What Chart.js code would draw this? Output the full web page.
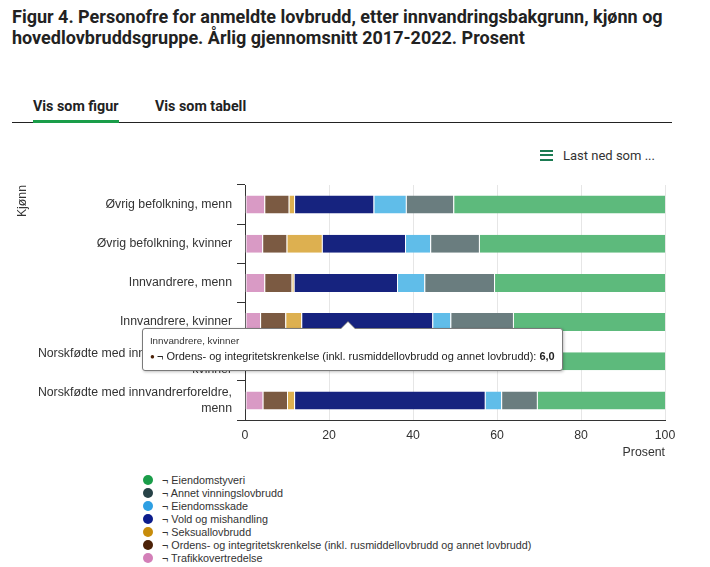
<!DOCTYPE html>
<html>
<head>
<meta charset="utf-8">
<script src="https://cdn.jsdelivr.net/npm/chart.js@4"></script>
<style>
  html, body { margin: 0; padding: 0; background: #fff; }
  body { width: 710px; height: 567px; position: relative; overflow: hidden; font-family: "Liberation Sans", Arial, sans-serif; color: #222; }
  .title { position: absolute; left: 12px; top: 6px; font-family: Roboto, sans-serif; font-weight: 700; font-size: 18px; line-height: 21px; color: #222; white-space: nowrap; }
  .tabs { position: absolute; left: 12px; top: 98px; width: 660px; height: 24px; border-bottom: 1px solid #222; }
  .tab { position: absolute; top: 0; font-family: Roboto, sans-serif; font-weight: 700; font-size: 14.3px; color: #222; white-space: nowrap; }
  .tab.active { left: 21px; }
  .tab.other { left: 143px; }
  .underline { position: absolute; left: 21px; bottom: -1px; width: 86px; height: 3px; background: #1a9d49; }
  .download { position: absolute; left: 540px; top: 148px; font-family: Roboto, sans-serif; font-size: 13px; color: #333; white-space: nowrap; }
  .download .icon { display: inline-block; width: 13px; height: 11px; vertical-align: -1px; margin-right: 10px;
    background: linear-gradient(#1b7b52 0 2px, transparent 2px 4.5px, #1b7b52 4.5px 6.5px, transparent 6.5px 9px, #1b7b52 9px 11px); }
  .wrap { position: absolute; left: 0; top: 170px; width: 700px; height: 290px; }
  #legend { position: absolute; left: 143px; top: 474px; font-size: 10.8px; color: #333; }
  #legend div { height: 12.95px; line-height: 12.95px; white-space: nowrap; }
  #legend span.dot { display: inline-block; width: 10px; height: 10px; border-radius: 50%; margin-right: 9px; vertical-align: -1px; }
  #tip { position: absolute; background: #fff; border: 1px solid #7a7a7a; border-radius: 3px; padding: 5px 7px 5px 7px;
    box-shadow: 1px 1px 3px rgba(0,0,0,0.25); font-family: "Liberation Sans", Arial, sans-serif; white-space: nowrap; opacity: 0; }
  #tip .t { font-size: 9.8px; color: #333; line-height: 14px; }
  #tip .b { font-size: 11px; color: #222; line-height: 16px; }
  #tip .b .d { font-size: 8px; vertical-align: 1px; }
  #tip .caret, #tip .caret2 { position: absolute; width: 0; height: 0; }
  #tip .caret2 { top: -8px; border-left: 8px solid transparent; border-right: 8px solid transparent; border-bottom: 8px solid #7a7a7a; }
  #tip .caret { top: -7px; border-left: 7px solid transparent; border-right: 7px solid transparent; border-bottom: 7px solid #fff; }
</style>
</head>
<body>
<div class="title">Figur 4. Personofre for anmeldte lovbrudd, etter innvandringsbakgrunn, kjønn og<br>hovedlovbruddsgruppe. Årlig gjennomsnitt 2017-2022. Prosent</div>
<div class="tabs">
  <div class="tab active">Vis som figur</div>
  <div class="tab other">Vis som tabell</div>
  <div class="underline"></div>
</div>
<div class="download"><span class="icon"></span>Last ned som ...</div>
<div class="wrap"><canvas id="chart"></canvas></div>
<div id="legend"></div>
<div id="tip"><div class="caret2"></div><div class="caret"></div><div class="t"></div><div class="b"></div></div>
<script>
// kategorier (y-akse)
const categories = [
  'Øvrig befolkning, menn',
  'Øvrig befolkning, kvinner',
  'Innvandrere, menn',
  'Innvandrere, kvinner',
  ['Norskfødte med innvandrerforeldre,', 'kvinner'],
  ['Norskfødte med innvandrerforeldre,', 'menn']
];

// serier i stablet rekkefølge (fra venstre)
const seriesNames = [
  '¬ Trafikkovertredelse',
  '¬ Ordens- og integritetskrenkelse (inkl. rusmiddellovbrudd og annet lovbrudd)',
  '¬ Seksuallovbrudd',
  '¬ Vold og mishandling',
  '¬ Eiendomsskade',
  '¬ Annet vinningslovbrudd',
  '¬ Eiendomstyveri'
];

const trafikk       = [4.6, 4.1, 4.6, 3.6, 3.6, 4.2];
const ordens        = [5.8, 5.8, 6.5, 6.0, 4.7, 5.8];
const seksual       = [1.3, 8.4, 0.5, 3.8, 8.9, 1.7];
const vold          = [18.9, 19.8, 24.6, 31.2, 44.6, 45.4];
const eiendomsskade = [7.7, 6.0, 6.5, 4.3, 2.6, 3.9];
const annetVinning  = [11.3, 11.6, 16.6, 14.9, 8.0, 8.5];
const eiendomstyveri = [50.4, 44.3, 40.7, 36.2, 27.6, 30.5];

const xTicks = [0, 20, 40, 60, 80, 100];

const barColors = ['#d99ac5', '#7b5a42', '#ddb050', '#16237f', '#60bde9', '#6a7d7f', '#5dba7c'];
const legendColors = ['#d37fb8', '#4b2107', '#c78c0b', '#0c1c8c', '#2d9fe3', '#274247', '#1a9d49'];

const seriesValues = [trafikk, ordens, seksual, vold, eiendomsskade, annetVinning, eiendomstyveri];

// tooltip som i originalen: Innvandrere, kvinner / Ordens...
const activeSeries = 1;
const activeCategory = 3;
const pointerAt = 24.5;

Chart.defaults.font.family = '"Liberation Sans", Arial, sans-serif';
Chart.defaults.color = '#333';

function externalTooltip(context) {
  const chart = context.chart;
  const tooltip = context.tooltip;
  const tip = document.getElementById('tip');
  if (tooltip.opacity === 0 || !tooltip.dataPoints || !tooltip.dataPoints.length) {
    tip.style.opacity = 0;
    return;
  }
  const dp = tooltip.dataPoints[0];
  const label = Array.isArray(dp.label) ? dp.label.join(' ') : dp.label;
  tip.querySelector('.t').textContent = label;
  const b = tip.querySelector('.b');
  b.innerHTML = '';
  const dot = document.createElement('span');
  dot.className = 'd';
  dot.style.color = legendColors[dp.datasetIndex];
  dot.textContent = '● ';
  b.appendChild(dot);
  b.appendChild(document.createTextNode(dp.dataset.label + ': '));
  const v = document.createElement('b');
  v.textContent = dp.raw.toFixed(1).replace('.', ',');
  b.appendChild(v);

  const wrap = chart.canvas.parentNode;
  const tipX = wrap.offsetLeft + chart.scales.x.getPixelForValue(pointerAt);
  const tipY = wrap.offsetTop + tooltip.caretY;
  const w = tip.offsetWidth;
  const left = tipX - Math.round(w * 0.49);
  tip.style.left = left + 'px';
  tip.style.top = (tipY + 6) + 'px';
  tip.querySelector('.caret').style.left = (tipX - left - 8) + 'px';
  tip.querySelector('.caret2').style.left = (tipX - left - 9) + 'px';
  tip.style.opacity = 1;
}

const datasets = seriesNames.map((name, i) => ({
  label: name,
  data: seriesValues[i],
  backgroundColor: barColors[i],
  hoverBackgroundColor: barColors[i],
  borderColor: '#fff',
  hoverBorderColor: '#fff',
  borderWidth: { left: 1, right: 0, top: 0, bottom: 0 },
  borderSkipped: false,
  barPercentage: 0.92,
  categoryPercentage: 0.5
}));

const chart = new Chart(document.getElementById('chart'), {
  type: 'bar',
  data: { labels: categories, datasets: datasets },
  options: {
    indexAxis: 'y',
    responsive: true,
    maintainAspectRatio: false,
    animation: false,
    events: [],
    layout: { padding: { top: 15, right: 35, bottom: 0, left: 0 } },
    plugins: {
      legend: { display: false },
      tooltip: { enabled: false, external: externalTooltip }
    },
    scales: {
      x: {
        stacked: true,
        min: 0,
        max: 100,
        afterBuildTicks: (scale) => { scale.ticks = xTicks.map(v => ({ value: v })); },
        afterFit: (scale) => { scale.height = 40; },
        grid: { color: '#e6e6e6', drawTicks: false },
        border: { color: '#333', width: 1 },
        ticks: { padding: 8, font: { size: 12.3 }, color: '#333' },
        title: { display: true, text: 'Prosent', align: 'end', font: { size: 12.3 }, color: '#333', padding: { top: 2, bottom: 0 } }
      },
      y: {
        stacked: true,
        afterFit: (scale) => { scale.width = 245; scale.paddingTop = 0; scale.paddingBottom = 0; },
        grid: { offset: true, drawOnChartArea: false, drawTicks: true, tickLength: 8, color: '#333' },
        border: { color: '#333', width: 1 },
        ticks: { padding: 5, font: { size: 12.3, lineHeight: 1.3 }, color: '#333' },
        title: { display: true, text: 'Kjønn', align: 'end', font: { size: 12.3 }, color: '#333', padding: { top: 15, bottom: 0 } }
      }
    }
  }
});

// legende, omvendt rekkefølge som i originalen
const legend = document.getElementById('legend');
for (let i = seriesNames.length - 1; i >= 0; i--) {
  const row = document.createElement('div');
  const dot = document.createElement('span');
  dot.className = 'dot';
  dot.style.background = legendColors[i];
  row.appendChild(dot);
  row.appendChild(document.createTextNode(seriesNames[i]));
  legend.appendChild(row);
}

const active = [{ datasetIndex: activeSeries, index: activeCategory }];
chart.setActiveElements(active);
chart.tooltip.setActiveElements(active, { x: 0, y: 0 });
chart.update();
</script>
</body>
</html>
